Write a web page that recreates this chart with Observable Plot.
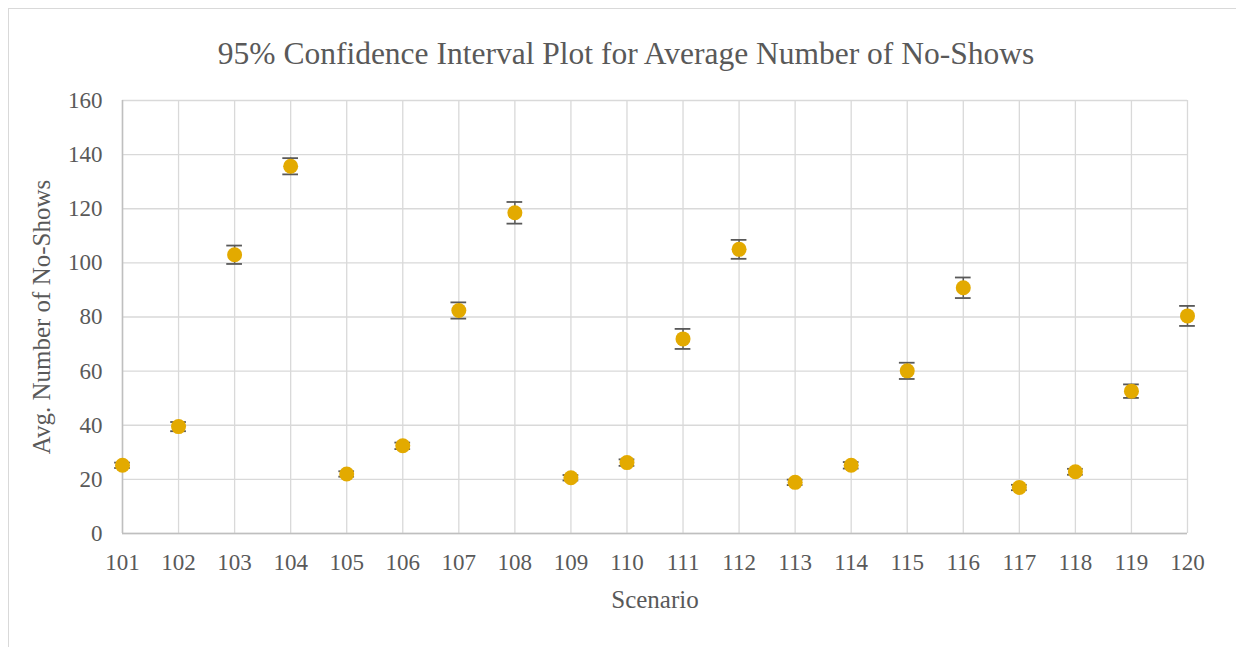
<!DOCTYPE html>
<html>
<head>
<meta charset="utf-8">
<script src="https://cdn.jsdelivr.net/npm/d3@7"></script>
<script src="https://cdn.jsdelivr.net/npm/@observablehq/plot@0.6"></script>
<style>
  body { margin: 0; background: #fff; }
  #wrap { position: relative; width: 1236px; height: 647px; overflow: hidden; font-family: "Liberation Serif", "Times New Roman", serif; }
  #frame { position: absolute; left: 8px; top: 8px; width: 1300px; height: 700px; border: 1px solid #d9d9d9; }
  #title { position: absolute; left: 0; width: 1252px; top: 35px; line-height: 38px; text-align: center; font-size: 31.5px; color: #595959; }
  #chart { position: absolute; left: 0; top: 0; }
</style>
</head>
<body>
<div id="wrap">
  <div id="frame"></div>
  <div id="chart"></div>
  <div id="title">95% Confidence Interval Plot for Average Number of No-Shows</div>
</div>
<script>
const scenarios = [101,102,103,104,105,106,107,108,109,110,111,112,113,114,115,116,117,118,119,120];
const means     = [25.2,39.5,103,135.7,22,32.4,82.4,118.5,20.6,26.2,71.9,105,18.9,25.2,60.1,90.8,17,22.8,52.6,80.4];
const halfWidth = [1.0,1.7,3.4,3.0,1.0,1.2,3.0,4.0,1.0,1.2,3.7,3.5,1.0,1.2,3.0,3.8,1.0,1.1,2.5,3.7];
const yTicks = [0,20,40,60,80,100,120,140,160];

const data = scenarios.map((s, i) => ({s, m: means[i], lo: means[i] - halfWidth[i], hi: means[i] + halfWidth[i]}));

const capHalf = 0.14;
const chart = Plot.plot({
  width: 1236,
  height: 647,
  marginLeft: 122,
  marginRight: 49,
  marginTop: 100,
  marginBottom: 114,
  style: {fontFamily: "'Liberation Serif', 'Times New Roman', serif", fontSize: "23px", color: "#595959", background: "transparent"},
  x: {domain: [101, 120], ticks: scenarios, tickFormat: d => String(d), label: null},
  y: {domain: [0, 160], ticks: yTicks, label: null},
  marks: [
    Plot.gridX(scenarios, {stroke: "#d9d9d9", strokeOpacity: 1, strokeWidth: 1.3}),
    Plot.gridY(yTicks, {stroke: "#d9d9d9", strokeOpacity: 1, strokeWidth: 1.3}),
    Plot.ruleX([101], {stroke: "#bfbfbf", strokeWidth: 1.5}),
    Plot.ruleY([0], {stroke: "#bfbfbf", strokeWidth: 1.5}),
    Plot.axisX({ticks: scenarios, tickSize: 0, tickPadding: 20, fontSize: 23, tickFormat: d => String(d),
      label: "Scenario", labelAnchor: "center", labelArrow: "none", labelOffset: 74}),
    Plot.axisY({ticks: yTicks, tickSize: 0, tickPadding: 20, fontSize: 23,
      label: "Avg. Number of No-Shows", labelAnchor: "center", labelArrow: "none", labelOffset: 90}),
    Plot.ruleX(data, {x: "s", y1: "lo", y2: "hi", stroke: "#595959", strokeWidth: 1.5}),
    Plot.ruleY(data, {y: "lo", x1: d => d.s - capHalf, x2: d => d.s + capHalf, stroke: "#595959", strokeWidth: 1.8}),
    Plot.ruleY(data, {y: "hi", x1: d => d.s - capHalf, x2: d => d.s + capHalf, stroke: "#595959", strokeWidth: 1.8}),
    Plot.dot(data, {x: "s", y: "m", r: 7.5, fill: "#E3AA00", stroke: "none"})
  ]
});
chart.querySelectorAll("[aria-label='x-axis label'] text, [aria-label='y-axis label'] text").forEach(t => t.setAttribute("font-size", "25px"));
document.getElementById("chart").appendChild(chart);
</script>
</body>
</html>
